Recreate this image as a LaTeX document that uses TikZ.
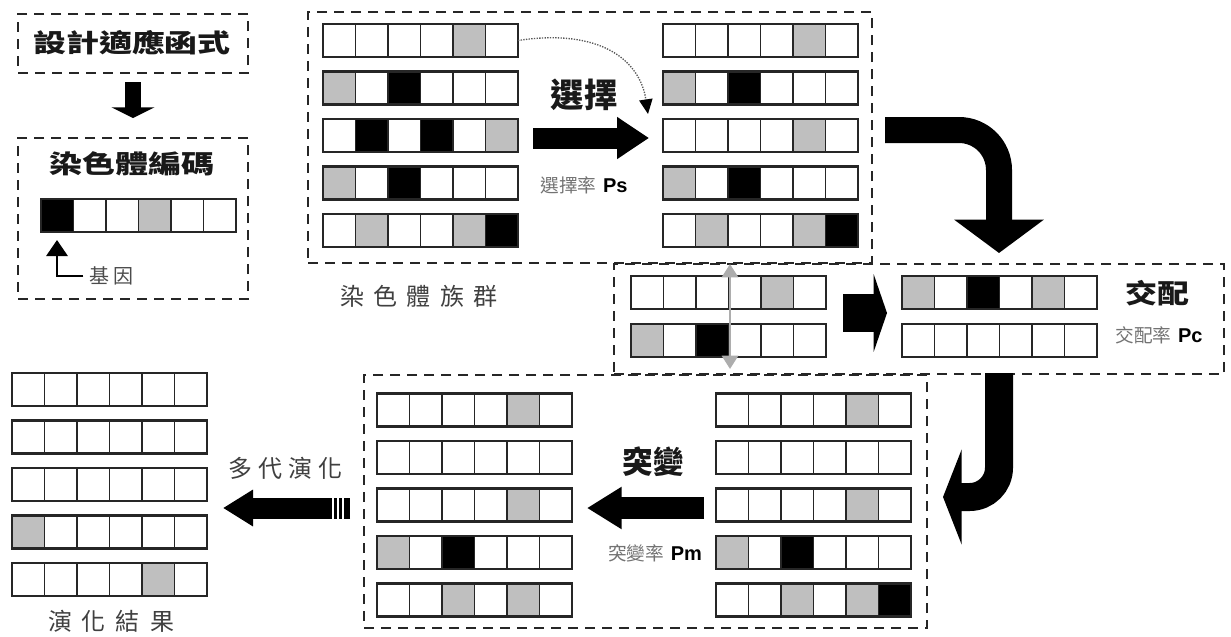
\documentclass[tikz,border=0pt]{standalone}
\usepackage{fontspec}
\newfontfamily\cjk{Noto Sans CJK TC}
\newfontfamily\cjkw[FakeStretch=1.3]{Noto Sans CJK TC}
\newfontfamily\cjkm[FakeStretch=1.2]{Noto Sans CJK TC}
\newfontfamily\arialb{Liberation Sans}
\usetikzlibrary{arrows.meta}
\colorlet{W}{white}
\colorlet{G}{black!25}
\colorlet{B}{black}
\tikzset{
  chromnode/.style={minimum width=146.25pt, minimum height=24.75pt, inner sep=0pt, outer sep=0pt},
  cellline/.style={draw=black!85, line width=1pt},
  dashbox/.style={draw=black!85, line width=1.5pt, dash pattern=on 7.5pt off 5.25pt, inner sep=0pt},
  bigtitle/.style={inner sep=0pt, text=black!90},
  smalllbl/.style={inner sep=0pt, text=black!55, font=\cjk\fontsize{14}{16}\selectfont},
  seriflbl/.style={inner sep=0pt, text=black!75, font=\cjk\fontsize{18}{20}\selectfont},
}
\newcommand\chromo[4]{%
  \node[chromnode, anchor=north west] (#1) at (#2,#3) {};
  \foreach \col [count=\i from 0] in {#4}{
    \filldraw[fill=\col, cellline] ({#2+\i*32.5},#3) rectangle ++(32.5,33);
  }
  \draw[line width=1.6pt, black!85] (#1.north west) rectangle (#1.south east);
}
\newcommand\pval[1]{\hspace{5pt}{\arialb\bfseries\fontsize{15}{16}\selectfont\textcolor{black}{#1}}}
\begin{document}
\begin{tikzpicture}[x=0.75pt,y=-0.75pt]
\useasboundingbox (0,0) rectangle (1231,636);
\fill[white] (0,0) rectangle (1231,636);

% dashed boxes
\node[dashbox, anchor=north west, minimum width=172.5pt, minimum height=44.25pt] (fitbox) at (17,13) {};
\node[dashbox, anchor=north west, minimum width=172.5pt, minimum height=120.75pt] (encbox) at (17,137) {};
\node[dashbox, anchor=north west, minimum width=423pt, minimum height=188.25pt] (popbox) at (307,11) {};
\node[dashbox, anchor=north west, minimum width=457.5pt, minimum height=82.5pt] (xobox) at (613,263) {};
\node[dashbox, anchor=north west, minimum width=422.25pt, minimum height=189.75pt] (mutbox) at (363,374) {};

% titles
\node[bigtitle, font=\cjkw\bfseries\fontsize{19}{20}\selectfont] (fittxt) at (132,43) {設計適應函式};
\node[bigtitle, font=\cjkw\bfseries\fontsize{19}{20}\selectfont] (enctxt) at (132,164) {染色體編碼};
\node[bigtitle, font=\cjk\bfseries\fontsize{25}{26}\selectfont] (seltxt) at (584,95) {選擇};
\node[bigtitle, font=\cjkm\bfseries\fontsize{20}{22}\selectfont] (xotxt) at (1157,293) {交配};
\node[bigtitle, font=\cjk\bfseries\fontsize{23}{24}\selectfont] (mutxt) at (653,462) {突變};

% small labels
\node[smalllbl] (selp) at (584,185) {選擇率\pval{Ps}};
\node[smalllbl] (xop) at (1159,335) {交配率\pval{Pc}};
\node[smalllbl] (mup) at (655,553) {突變率\pval{Pm}};
\node[seriflbl] (poplbl) at (419,296) {染\hspace{7pt}色\hspace{7pt}體\hspace{7pt}族\hspace{7pt}群};
\node[seriflbl] (reslbl) at (111,621) {演\hspace{7.5pt}化\hspace{7.5pt}結\hspace{7.5pt}果};
\node[seriflbl] (genlbl) at (285,468) {多\hspace{4.5pt}代\hspace{4.5pt}演\hspace{4.5pt}化};
\node[smalllbl, text=black!70, font=\cjk\fontsize{15}{16}\selectfont] (genetxt) at (111,276) {基\hspace{3pt}因};

% encoding chromosome
\chromo{enc}{41}{199}{B,W,W,G,W,W}

% population
\chromo{pl1}{323}{24}{W,W,W,W,G,W}
\chromo{pl2}{323}{71.5}{G,W,B,W,W,W}
\chromo{pl3}{323}{119}{W,B,W,B,W,G}
\chromo{pl4}{323}{166.5}{G,W,B,W,W,W}
\chromo{pl5}{323}{214}{W,G,W,W,G,B}
\chromo{pr1}{663}{24}{W,W,W,W,G,W}
\chromo{pr2}{663}{71.5}{G,W,B,W,W,W}
\chromo{pr3}{663}{119}{W,W,W,W,G,W}
\chromo{pr4}{663}{166.5}{G,W,B,W,W,W}
\chromo{pr5}{663}{214}{W,G,W,W,G,B}

% crossover
\chromo{xl1}{631}{276}{W,W,W,W,G,W}
\chromo{xl2}{631}{324}{G,W,B,W,W,W}
\chromo{xr1}{902}{276}{G,W,B,W,G,W}
\chromo{xr2}{902}{324}{W,W,W,W,W,W}

% mutation
\chromo{mr1}{716}{393.5}{W,W,W,W,G,W}
\chromo{mr2}{716}{441}{W,W,W,W,W,W}
\chromo{mr3}{716}{488.5}{W,W,W,W,G,W}
\chromo{mr4}{716}{536}{G,W,B,W,W,W}
\chromo{mr5}{716}{583.5}{W,W,G,W,G,B}
\chromo{ml1}{377}{393.5}{W,W,W,W,G,W}
\chromo{ml2}{377}{441}{W,W,W,W,W,W}
\chromo{ml3}{377}{488.5}{W,W,W,W,G,W}
\chromo{ml4}{377}{536}{G,W,B,W,W,W}
\chromo{ml5}{377}{583.5}{W,W,G,W,G,W}

% result
\chromo{rs1}{12}{373}{W,W,W,W,W,W}
\chromo{rs2}{12}{420.5}{W,W,W,W,W,W}
\chromo{rs3}{12}{468}{W,W,W,W,W,W}
\chromo{rs4}{12}{515.5}{G,W,W,W,W,W}
\chromo{rs5}{12}{563}{W,W,W,W,G,W}

% connectors
\draw[line width=12pt, -{Triangle[length=8pt,width=32pt]}] ([yshift=-6pt]fitbox.south) -- ([yshift=14.25pt]encbox.north);
\coordinate (genetip) at (57,240);
\draw[line width=1.5pt, -{Triangle[length=12pt,width=16pt]}] ([xshift=-4pt]genetxt.west) -| (genetip);

\coordinate (selA) at (533,138);
\coordinate (selB) at (649,138);
\draw[line width=15.75pt, -{Triangle[length=24pt,width=30pt]}] (selA) -- (selB);
\draw[black!65, densely dotted, line width=1pt, -{Triangle[length=11pt,width=10pt,color=black]}]
  (pl1.east) .. controls (600,28) and (640,60) .. (648,114);

\coordinate (c1A) at (885,130);
\coordinate (c1B) at (999,253);
\draw[line width=19.5pt, rounded corners=30pt, -{Triangle[length=25pt,width=66pt]}] (c1A) -| (c1B);

\draw[black!32, line width=2.2pt, {Triangle[length=10pt,width=12pt]}-{Triangle[length=10pt,width=12pt]}] (730,264) -- (730,369);

\coordinate (xoA) at (843,313);
\coordinate (xoB) at (887,313);
\draw[line width=28.5pt, -{Triangle[length=10pt,width=58pt]}] (xoA) -- (xoB);

\coordinate (c2A) at (999,373);
\coordinate (c2B) at (943,497);
\draw[line width=21pt, rounded corners=22pt, -{Triangle[length=14pt,width=71pt]}] (c2A) |- (c2B);

\coordinate (muA) at (704,508);
\coordinate (muB) at (587,508);
\draw[line width=16.5pt, -{Triangle[length=26pt,width=30pt]}] (muA) -- (muB);

\coordinate (rsA) at (350,508);
\coordinate (rsB) at (223,508);
\draw[line width=15.75pt, -{Triangle[length=22.5pt,width=26pt]}] (rsA) -- (rsB);
\foreach \sx in {333,338,343}{\draw[white, line width=0.8pt] (\sx,497) -- (\sx,519);}
\end{tikzpicture}
\end{document}
